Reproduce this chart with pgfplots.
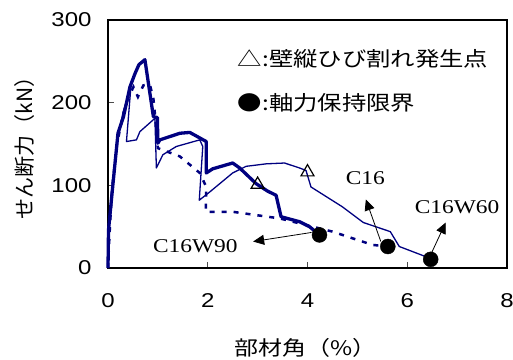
\documentclass[border=0pt]{standalone}
\usepackage{fontspec}
\usepackage{pgfplots}
\pgfplotsset{compat=1.18}
\usetikzlibrary{arrows.meta}
\newfontfamily\sansf{Liberation Sans}[FakeStretch=1.2]
\newfontfamily\seriff{Liberation Serif}[FakeStretch=1.2]
\newfontfamily\cjk{Noto Sans CJK JP}[FakeStretch=1.2]
\newfontfamily\cjkv{Noto Sans CJK JP}
\definecolor{navyc}{RGB}{0,0,128}
\begin{document}
\begin{tikzpicture}
\path[use as bounding box] (0,0) rectangle (513pt,359pt);
\begin{axis}[at={(108pt,91pt)}, anchor=south west, scale only axis,
  width=399pt, height=248pt,
  xmin=0, xmax=8, ymin=0, ymax=300,
  xtick={0,2,4,6,8}, ytick={0,100,200,300},
  tick align=inside, xtick pos=bottom, ytick pos=left,
  major tick length=6pt,
  axis line style={line width=1.3pt},
  tick style={line width=0.8pt, black!70},
  /pgf/number format/assume math mode=true,
  ticklabel style={font=\sansf\fontsize{20}{24}\selectfont},
  yticklabel style={xshift=-13pt},
  xticklabel style={yshift=-22pt},
  xlabel={部材角（\%）},
  ylabel={せん断力（kN）},
  xlabel style={font=\cjk\fontsize{20}{24}\selectfont, at={(axis description cs:0.495,-0.323)}, anchor=center},
  ylabel style={font=\cjkv\fontsize{21}{24}\selectfont, at={(axis description cs:-0.208,0.504)}, anchor=center, rotate=0},
  clip=false,
]
% C16W90 (thick)
\addplot[navyc, line width=3.3pt, line join=round] coordinates {
(0,0) (0.01,46) (0.1,102) (0.2,163) (0.31,183) (0.44,219) (0.54,235) (0.62,246) (0.74,252)
(0.91,183) (0.99,182) (1.0,151) (1.04,155) (1.44,163) (1.64,164) (1.97,153) (1.97,115)
(2.1,120) (2.5,127) (2.64,121) (2.97,102) (3.2,93) (3.37,88) (3.47,62) (3.84,56) (4.04,50) (4.24,40)
};
% C16W60 (thin)
\addplot[navyc, line width=1.3pt, line join=round] coordinates {
(0,0) (0.01,40) (0.1,100) (0.2,158) (0.3,188) (0.46,220) (0.37,153) (0.57,155) (0.64,165)
(0.94,181) (0.97,121) (1.1,137) (1.37,147) (1.84,155) (1.9,147) (1.83,82) (2.04,92)
(2.5,115) (2.77,123) (3.17,126) (3.54,127) (3.84,121) (3.97,118) (4.07,98) (4.7,74)
(5.12,55) (5.66,44) (5.84,26) (6.36,14) (6.47,10)
};
% C16 (dashed)
\addplot[navyc, line width=2.5pt, dash pattern=on 5pt off 7pt] coordinates {
(0,0) (0.03,40) (0.08,95) (0.18,150) (0.3,185) (0.4,205) (0.51,219) (0.6,207) (0.71,221)
(0.84,222) (0.91,205) (0.94,187) (1.0,145) (1.44,135) (1.84,115) (1.97,98) (1.96,68)
(2.5,68) (3.44,60) (3.97,52) (4.5,44) (5.3,28) (5.6,26)
};
% wall vertical crack points
\addplot[only marks, mark=triangle, mark size=7.5pt, mark options={black, line width=1.2pt, fill=white}] coordinates {(3.0,101) (4.0,116)};
% axial load limit
\addplot[only marks, mark=*, mark size=7.5pt, mark options={black, fill=black}] coordinates {(4.24,40) (5.61,26) (6.47,10.5)};
% arrows
\addplot[black, line width=0.8pt, -{Triangle[length=11pt,width=10pt]}] coordinates {(5.47,32) (5.17,83)};
\addplot[black, line width=0.8pt, -{Triangle[length=11pt,width=10pt]}] coordinates {(6.47,16) (6.77,55)};
\addplot[black, line width=0.8pt, -{Triangle[length=11pt,width=10pt]}] coordinates {(4.08,43) (2.91,32)};
% labels
\node[font=\seriff\fontsize{19.5}{22}\selectfont] at (axis cs:5.16,109) {C16};
\node[font=\seriff\fontsize{19.5}{22}\selectfont] at (axis cs:7.0,74) {C16W60};
\node[font=\seriff\fontsize{19.5}{22}\selectfont] at (axis cs:1.75,27) {C16W90};
\node[font=\cjk\fontsize{20.3}{24}\selectfont, anchor=west, inner sep=0pt] at (axis cs:2.6,253) {△:壁縦ひび割れ発生点};
\node[font=\cjk\fontsize{20.3}{24}\selectfont, anchor=west, inner sep=0pt] at (axis cs:2.6,200) {●:軸力保持限界};
\end{axis}
\end{tikzpicture}
\end{document}
